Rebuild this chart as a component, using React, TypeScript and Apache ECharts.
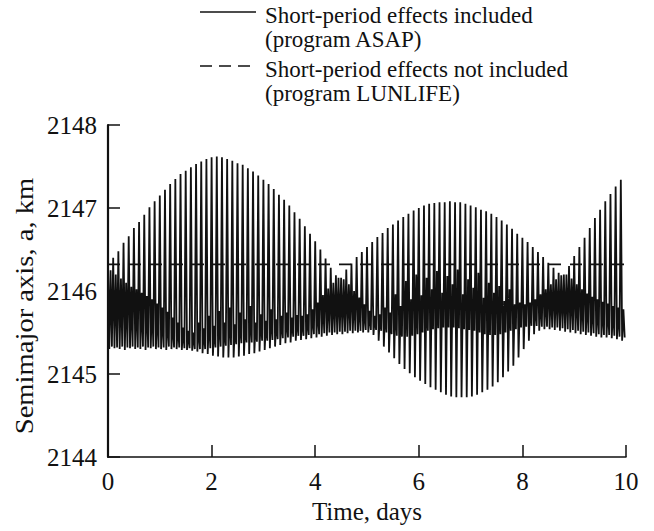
import React, { useEffect, useRef } from "react";
import * as echarts from "echarts";

// Semimajor axis history, one orbital cycle per 0.1 day.
// Each cycle is described by its crest, the trough after it, and the
// top / bottom of the fast secondary wiggle that follows.
const CYCLE_DAYS = 0.1;

const cycleCrests = [
  2146.35, 2146.40, 2146.48, 2146.58, 2146.66, 2146.76, 2146.83, 2146.92, 2147.01, 2147.08,
  2147.15, 2147.22, 2147.29, 2147.35, 2147.41, 2147.45, 2147.49, 2147.53, 2147.56, 2147.59,
  2147.61, 2147.62, 2147.61, 2147.59, 2147.57, 2147.54, 2147.52, 2147.48, 2147.44, 2147.39,
  2147.34, 2147.29, 2147.23, 2147.16, 2147.10, 2147.03, 2146.95, 2146.87, 2146.78, 2146.69,
  2146.60, 2146.50, 2146.39, 2146.28, 2146.19, 2146.16, 2146.26, 2146.33, 2146.41, 2146.47,
  2146.53, 2146.59, 2146.65, 2146.70, 2146.76, 2146.80, 2146.85, 2146.89, 2146.93, 2146.97,
  2147.00, 2147.03, 2147.05, 2147.06, 2147.07, 2147.07, 2147.08, 2147.07, 2147.07, 2147.05,
  2147.03, 2147.01, 2146.98, 2146.96, 2146.93, 2146.89, 2146.85, 2146.80, 2146.75, 2146.69,
  2146.64, 2146.59, 2146.53, 2146.47, 2146.41, 2146.34, 2146.28, 2146.22, 2146.20, 2146.30,
  2146.42, 2146.53, 2146.64, 2146.76, 2146.88, 2146.98, 2147.08, 2147.17, 2147.26, 2147.34,
];

const cycleTroughs = [
  2145.30, 2145.31, 2145.30, 2145.29, 2145.31, 2145.30, 2145.30, 2145.29, 2145.31, 2145.30,
  2145.30, 2145.29, 2145.30, 2145.30, 2145.29, 2145.29, 2145.28, 2145.27, 2145.25, 2145.24,
  2145.22, 2145.21, 2145.20, 2145.20, 2145.20, 2145.21, 2145.22, 2145.24, 2145.25, 2145.27,
  2145.29, 2145.31, 2145.33, 2145.35, 2145.37, 2145.38, 2145.40, 2145.41, 2145.42, 2145.43,
  2145.44, 2145.45, 2145.46, 2145.47, 2145.48, 2145.48, 2145.49, 2145.49, 2145.50, 2145.50,
  2145.50, 2145.47, 2145.40, 2145.33, 2145.26, 2145.19, 2145.12, 2145.06, 2145.01, 2144.96,
  2144.92, 2144.88, 2144.84, 2144.81, 2144.78, 2144.75, 2144.73, 2144.72, 2144.72, 2144.72,
  2144.73, 2144.75, 2144.78, 2144.81, 2144.85, 2144.90, 2144.96, 2145.03, 2145.10, 2145.20,
  2145.30, 2145.40, 2145.48, 2145.52, 2145.54, 2145.54, 2145.53, 2145.52, 2145.51, 2145.50,
  2145.49, 2145.48, 2145.47, 2145.46, 2145.45, 2145.44, 2145.44, 2145.43, 2145.42, 2145.40,
];

const wiggleTops = [
  2146.25, 2146.20, 2146.15, 2146.10, 2146.05, 2146.02, 2145.98, 2145.94, 2145.90, 2145.85,
  2145.80, 2145.75, 2145.68, 2145.62, 2145.56, 2145.52, 2145.50, 2145.62, 2145.55, 2145.70,
  2145.58, 2145.76, 2145.62, 2145.80, 2145.60, 2145.74, 2145.66, 2145.82, 2145.62, 2145.72,
  2145.64, 2145.78, 2145.66, 2145.70, 2145.74, 2145.68, 2145.71, 2145.70, 2145.72, 2145.78,
  2145.86, 2145.95, 2146.03, 2146.10, 2146.16, 2146.14, 2146.08, 2146.00, 2145.92, 2145.84,
  2145.76, 2145.70, 2145.72, 2145.80, 2145.74, 2145.96, 2145.82, 2146.12, 2145.90, 2146.20,
  2145.95, 2146.16, 2146.02, 2146.24, 2145.98, 2146.18, 2146.08, 2146.26, 2145.96, 2146.14,
  2146.04, 2146.22, 2145.92, 2146.10, 2145.98, 2146.06, 2145.88, 2146.02, 2145.84, 2145.86,
  2145.84, 2145.86, 2145.90, 2145.96, 2146.02, 2146.08, 2146.14, 2146.19, 2146.20, 2146.15,
  2146.08, 2146.02, 2145.97, 2145.93, 2145.90, 2145.87, 2145.85, 2145.82, 2145.80, 2145.78,
];

const wiggleLows = [
  2145.33, 2145.32, 2145.33, 2145.32, 2145.33, 2145.32, 2145.33, 2145.32, 2145.33, 2145.32,
  2145.32, 2145.33, 2145.32, 2145.32, 2145.31, 2145.31, 2145.30, 2145.30, 2145.30, 2145.31,
  2145.32, 2145.33, 2145.34, 2145.35, 2145.36, 2145.37, 2145.38, 2145.38, 2145.39, 2145.40,
  2145.40, 2145.41, 2145.42, 2145.43, 2145.44, 2145.45, 2145.46, 2145.46, 2145.47, 2145.48,
  2145.48, 2145.49, 2145.50, 2145.50, 2145.51, 2145.51, 2145.52, 2145.52, 2145.52, 2145.53,
  2145.53, 2145.53, 2145.52, 2145.50, 2145.48, 2145.46, 2145.45, 2145.45, 2145.46, 2145.48,
  2145.50, 2145.52, 2145.54, 2145.55, 2145.56, 2145.56, 2145.56, 2145.55, 2145.54, 2145.53,
  2145.52, 2145.50, 2145.48, 2145.47, 2145.47, 2145.48, 2145.50, 2145.52, 2145.54, 2145.56,
  2145.57, 2145.58, 2145.58, 2145.57, 2145.57, 2145.56, 2145.56, 2145.55, 2145.54, 2145.53,
  2145.52, 2145.51, 2145.50, 2145.49, 2145.48, 2145.47, 2145.47, 2145.46, 2145.45, 2145.44,
];

// Mean-element solution (no short-period terms): flat line.
const meanDays = [0, 10];
const meanAxis = [2146.32, 2146.32];

const xTicks = { min: 0, max: 10, step: 2 };
const yTicks = { min: 2144, max: 2148, step: 1 };

const legendLabels = [
  ["Short-period effects included", "(program ASAP)"],
  ["Short-period effects not included", "(program LUNLIFE)"],
];
const xTitle = "Time, days";
const yTitle = "Semimajor axis, a, km";

const FONT = "Liberation Serif";
const INK = "#111";

function buildShortPeriodSeries(): number[][] {
  const pts: number[][] = [];
  const q = CYCLE_DAYS / 4;
  for (let k = 0; k < cycleCrests.length; k++) {
    const t0 = k * CYCLE_DAYS;
    pts.push([t0, cycleCrests[k]]);
    pts.push([t0 + q, cycleTroughs[k]]);
    pts.push([t0 + 2 * q, wiggleTops[k]]);
    pts.push([t0 + 3 * q, wiggleLows[k]]);
  }
  return pts;
}

export default function App() {
  const ref = useRef<HTMLDivElement>(null);

  useEffect(() => {
    document.body.style.margin = "0";
    if (!ref.current) return;
    const chart = echarts.init(ref.current, null, { renderer: "svg" });

    const legendText = {
      fill: INK,
      fontSize: 23,
      fontFamily: FONT,
      verticalAlign: "middle",
      textVerticalAlign: "middle",
    };

    chart.setOption({
      animation: false,
      backgroundColor: "#ffffff",
      grid: { left: 108, right: 28, top: 125, bottom: 74 },
      xAxis: {
        type: "value",
        min: xTicks.min,
        max: xTicks.max,
        interval: xTicks.step,
        name: xTitle,
        nameLocation: "middle",
        nameGap: 41,
        nameTextStyle: { color: INK, fontSize: 25, fontFamily: FONT },
        axisLine: { show: true, lineStyle: { color: INK, width: 1.5 } },
        axisTick: { show: true, inside: true, length: 12, lineStyle: { color: INK, width: 1.5 } },
        axisLabel: {
          color: INK,
          fontSize: 25,
          fontFamily: FONT,
          margin: 12,
          formatter: (v: number) => String(v),
        },
        splitLine: { show: false },
      },
      yAxis: {
        type: "value",
        min: yTicks.min,
        max: yTicks.max,
        interval: yTicks.step,
        axisLine: { show: true, lineStyle: { color: INK, width: 2.2 } },
        axisTick: { show: true, inside: true, length: 12, lineStyle: { color: INK, width: 1.5 } },
        axisLabel: {
          color: INK,
          fontSize: 25,
          fontFamily: FONT,
          margin: 11,
          formatter: (v: number) => String(v),
        },
        splitLine: { show: false },
      },
      series: [
        {
          name: "ASAP",
          type: "line",
          data: buildShortPeriodSeries(),
          showSymbol: false,
          symbol: "none",
          lineStyle: { color: INK, width: 1.8 },
          z: 2,
        },
        {
          name: "LUNLIFE",
          type: "line",
          data: meanDays.map((d, i) => [d, meanAxis[i]]),
          showSymbol: false,
          symbol: "none",
          lineStyle: { color: INK, width: 1.8, type: [12, 9] },
          z: 3,
        },
      ],
      graphic: [
        {
          type: "line",
          shape: { x1: 200, y1: 12, x2: 256, y2: 12 },
          style: { stroke: INK, lineWidth: 1.3 },
        },
        { type: "text", x: 265, y: 15, style: { ...legendText, text: legendLabels[0][0] } },
        { type: "text", x: 265, y: 39, style: { ...legendText, text: legendLabels[0][1] } },
        {
          type: "line",
          shape: { x1: 200, y1: 66, x2: 256, y2: 66 },
          style: { stroke: INK, lineWidth: 1.3, lineDash: [12, 7] },
        },
        { type: "text", x: 265, y: 69, style: { ...legendText, text: legendLabels[1][0] } },
        { type: "text", x: 265, y: 93, style: { ...legendText, text: legendLabels[1][1] } },
        {
          type: "text",
          x: 24,
          y: 306,
          rotation: Math.PI / 2,
          scaleX: 1.1,
          style: {
            ...legendText,
            fontSize: 26,
            text: yTitle,
            align: "center",
            textAlign: "center",
          },
        },
      ],
    });

    return () => chart.dispose();
  }, []);

  return <div ref={ref} style={{ width: 654, height: 531 }} />;
}
